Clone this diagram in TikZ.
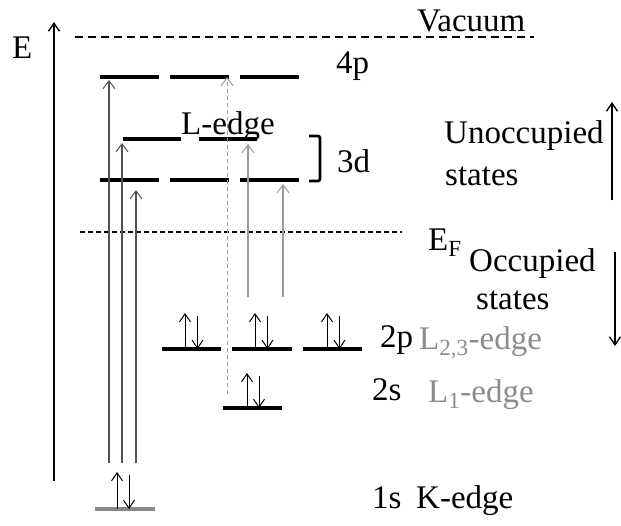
\documentclass[tikz,border=0pt]{standalone}
\usepackage{fontspec}
\setmainfont{Liberation Serif}
\usetikzlibrary{arrows.meta}
\definecolor{trans}{HTML}{505050}
\definecolor{ltgray}{HTML}{9A9A9A}
\definecolor{lblgray}{HTML}{8C8C8C}
\definecolor{onesgray}{HTML}{888888}
\tikzset{
  lvl/.style={line width=3.2pt, black},
  lvlgray/.style={line width=3.2pt, onesgray},
  tr/.style={line width=1.1pt, trans, -{Straight Barb[length=8pt,width=12pt,line width=1pt]}},
  trgray/.style={line width=1.1pt, ltgray, -{Straight Barb[length=8pt,width=12pt,line width=1pt]}},
  spin/.style={line width=1pt, black, -{Straight Barb[length=8pt,width=11pt,line width=1pt]}},
  bigarrow/.style={line width=1.6pt, black, -{Straight Barb[length=8pt,width=11pt,line width=1.4pt]}},
  lbl/.style={font=\fontsize{33}{38}\selectfont, inner sep=0pt, anchor=base west},
  glbl/.style={lbl, text=lblgray}
}
\begin{document}
\begin{tikzpicture}[x=1pt,y=-1pt]
\useasboundingbox (0,0) rectangle (621,525);
% energy axis
\coordinate (ax0) at (54,481);
\coordinate (ax1) at (54,22);
\draw[bigarrow, line width=1.3pt] (ax0) -- (ax1);
\node[lbl] (E) at (12,58) {E};
% vacuum
\coordinate (v0) at (75,37);
\coordinate (v1) at (534,37);
\draw[line width=1.5pt, dash pattern=on 8pt off 5pt] (v0) -- (v1);
\node[lbl] (vac) at (417,31) {Vacuum};
% Fermi level
\coordinate (f0) at (80,232);
\coordinate (f1) at (402,232);
\draw[line width=1.4pt, dash pattern=on 5pt off 3pt] (f0) -- (f1);
\node[lbl] (EF) at (428,250) {E\textsubscript{F}};
% 4p levels
\foreach \i/\a/\b in {1/100/159,2/170/229,3/240/299}{
  \coordinate (p4a\i) at (\a,77); \coordinate (p4b\i) at (\b,77);
  \draw[lvl] (p4a\i) -- (p4b\i);
}
\node[lbl] (l4p) at (336,73) {4p};
% 3d levels
\foreach \i/\a/\b in {1/123/181,2/199/257}{
  \coordinate (d3ua\i) at (\a,139); \coordinate (d3ub\i) at (\b,139);
  \draw[lvl] (d3ua\i) -- (d3ub\i);
}
\foreach \i/\a/\b in {1/100/159,2/170/229,3/240/299}{
  \coordinate (d3la\i) at (\a,180); \coordinate (d3lb\i) at (\b,180);
  \draw[lvl] (d3la\i) -- (d3lb\i);
}
\node[lbl] (Ledge) at (181,134) {L-edge};
% bracket
\coordinate (br0) at (309,136);
\coordinate (br1) at (309,181);
\draw[line width=2.6pt, rounded corners=2pt] (br0) -- ++(11,0) -- ++(0,45) -- (br1);
\node[lbl] (l3d) at (337,172) {3d};
% unoccupied
\node[lbl] (unocc) at (444,143) {Unoccupied};
\node[lbl] (unst) at (445,185) {states};
\coordinate (ua0) at (612,200);
\coordinate (ua1) at (612,102);
\draw[bigarrow] (ua0) -- (ua1);
% occupied
\node[lbl] (occ) at (469,271) {Occupied};
\node[lbl] (ocst) at (476,309) {states};
\coordinate (da0) at (615,252);
\coordinate (da1) at (615,346);
\draw[bigarrow] (da0) -- (da1);
% 2p levels with spins
\foreach \i/\a/\b/\u in {1/162/221/185,2/232/292/255,3/303/362/327}{
  \coordinate (p2a\i) at (\a,349); \coordinate (p2b\i) at (\b,349);
  \draw[lvl] (p2a\i) -- (p2b\i);
  \coordinate (su\i) at (\u,349); \coordinate (sut\i) at (\u,313);
  \coordinate (sd\i) at (\u+12.5,316); \coordinate (sdt\i) at (\u+12.5,349);
  \draw[spin] (su\i) -- (sut\i);
  \draw[spin] (sd\i) -- (sdt\i);
}
\node[lbl] (l2p) at (380,347) {2p};
\node[glbl] (L23) at (419,349) {L\textsubscript{2,3}-edge};
% 2s level
\coordinate (s2a) at (223,408); \coordinate (s2b) at (282,408);
\draw[lvl] (s2a) -- (s2b);
\coordinate (s2u) at (247,408); \coordinate (s2ut) at (247,373);
\coordinate (s2d) at (259,376); \coordinate (s2dt) at (259,408);
\draw[spin] (s2u) -- (s2ut);
\draw[spin] (s2d) -- (s2dt);
\node[lbl] (l2s) at (372,400) {2s};
\node[glbl] (L1) at (428,402) {L\textsubscript{1}-edge};
% 1s level
\coordinate (s1a) at (95,509); \coordinate (s1b) at (155,509);
\draw[lvlgray] (s1a) -- (s1b);
\coordinate (s1u) at (117,509); \coordinate (s1ut) at (117,472);
\coordinate (s1d) at (129,475); \coordinate (s1dt) at (129,509);
\draw[spin] (s1u) -- (s1ut);
\draw[spin] (s1d) -- (s1dt);
\node[lbl] (l1s) at (372,508) {1s};
\node[lbl] (Kedge) at (416,508) {K-edge};
% K-edge transitions
\coordinate (k1s) at (109,463); \coordinate (k1e) at (109,80);
\coordinate (k2s) at (122,463); \coordinate (k2e) at (122,143);
\coordinate (k3s) at (136,463); \coordinate (k3e) at (136,190);
\draw[tr] (k1s) -- (k1e);
\draw[tr] (k2s) -- (k2e);
\draw[tr] (k3s) -- (k3e);
% L-edge transitions
\coordinate (g1s) at (248,297); \coordinate (g1e) at (248,144);
\coordinate (g2s) at (283,297); \coordinate (g2e) at (283,184);
\draw[trgray] (g1s) -- (g1e);
\draw[trgray] (g2s) -- (g2e);
\coordinate (g3s) at (227,394); \coordinate (g3e) at (227,77);
\draw[trgray, line width=0.9pt, dash pattern=on 4pt off 3pt] (g3s) -- (g3e);
\end{tikzpicture}
\end{document}
